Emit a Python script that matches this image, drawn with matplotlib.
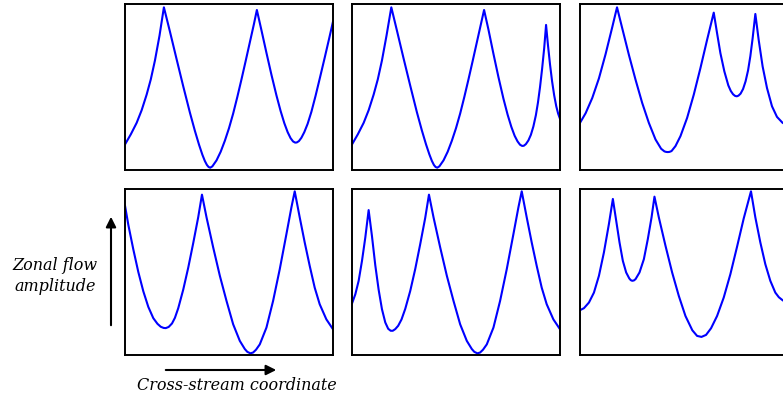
import matplotlib
matplotlib.use("Agg")
import matplotlib.pyplot as plt
from matplotlib.patches import FancyArrowPatch

# Zonal flow profiles (cross-stream position 0-100, amplitude 0-100)
p1_x = [0, 2.8, 5.6, 8, 10.4, 12.4, 14.4, 16.6, 18.7, 21.6, 24.8, 28, 31.2, 33.6, 35.6, 37.2,
        38.4, 39.4, 40.2, 41, 42, 44, 46, 48, 50, 52, 54, 56, 58, 60, 62, 63.4, 65.6, 68,
        70.4, 72.8, 74.8, 76.6, 78.2, 79.6, 80.8, 81.8, 82.6, 83.6, 84.8, 86.2, 87.8, 89.6,
        91.6, 93.8, 96, 98, 100]
p1_y = [15.4, 21.5, 28.4, 36, 45.4, 54.6, 66, 81, 98, 83.4, 66.8, 50.4, 34.6, 23.6, 15.2, 9.2,
        5.4, 3, 1.8, 1.4, 2.2, 5.8, 11, 17.6, 25.2, 34, 44, 54.6, 65.6, 76.8, 88, 96.4, 84.2, 70.6,
        57.4, 45, 35.6, 28.2, 22.8, 19.2, 17.2, 16.5, 16.6, 17.4, 19.4, 22.8, 27.8, 35,
        44.6, 56, 67.6, 78.4, 89.4]

p2_x = [0, 2.8, 5.6, 8, 10.4, 12.4, 14.4, 16.6, 18.9, 21.6, 24.8, 28, 31.2, 33.6, 35.6, 37.2,
        38.4, 39.4, 40.2, 41, 42, 44, 46, 48, 50, 52, 54, 56, 58, 60, 62, 63.5, 65.6, 68,
        70.4, 72.8, 74.8, 76.6, 78.2, 79.6, 80.8, 81.8, 82.6, 83.6, 84.8, 86, 87.2, 88.4,
        89.4, 90.4, 91.4, 92.4, 93.3, 94.2, 95.2, 96.2, 97.2, 98.2, 99.1, 100]
p2_y = [15.4, 21.5, 28.4, 36, 45.4, 54.6, 66, 81, 98, 84, 67.2, 50.8, 34.8, 23.8, 15.4, 9.4,
        5.5, 3, 1.8, 1.4, 2.2, 5.8, 11, 17.6, 25.2, 34, 44, 54.6, 65.6, 76.8, 88, 96.4, 84.6, 70,
        56, 43, 33.4, 26, 20.6, 17.2, 15.2, 14.5, 14.6, 15.6, 17.8, 21.2, 26.2, 33,
        40.6, 50, 61, 73.4, 87.4, 75.4, 63.6, 53.4, 45, 38.4, 34, 30.8]

p3_x = [0, 2.7, 5.9, 9.1, 12.3, 15.5, 17.8, 20.3, 23.5, 26.7, 29.9, 33.1, 36.3, 39, 40.6,
        41.4, 42.2, 43, 44, 45.9, 48.3, 51.5, 54.7, 57.9, 61.1, 64.3, 65.9, 67.5, 69.4, 71.3,
        72.5, 73.6, 74.6, 75.4, 76.2, 77.2, 78.4, 79.6, 80.8, 81.9, 83, 84.3, 85.9, 87.8,
        89.9, 92.3, 94.7, 97.4, 100]
p3_y = [28.4, 34.2, 43.4, 55.2, 69.8, 86, 98, 85.4, 69.4, 54.4, 40.4, 28.4, 18.4, 12.8, 11.2,
        10.9, 10.8, 10.9, 11.4, 14.4, 20.4, 31.4, 45.4, 61.4, 78.4, 94.8, 82.4, 70.4, 59.4, 51,
        47.6, 45.6, 44.6, 44.4, 44.8, 46, 48.8, 53.4, 60, 68.6, 79.4, 94, 78.4, 62.4,
        49.4, 38.4, 32, 28.4, 26.8]

p4_x = [0, 1.6, 4, 6.4, 8.8, 11.2, 13.6, 15.6, 17.2, 18.6, 19.6, 21, 22.6, 24, 25.6, 28, 30.4,
        32.8, 35.2, 37, 39.2, 42.4, 45.6, 48.8, 52, 55.2, 57.6, 58.8, 60.3, 61.6, 63, 64.8,
        68, 71.2, 74.4, 77.6, 80, 81.6, 84, 86.4, 88.8, 91.2, 93.6, 96.8, 100]
p4_y = [90, 78.4, 63.6, 50, 38.4, 29, 22.2, 18.8, 17, 16.3, 16.2, 16.9, 19, 22.4, 28.2, 39.4, 52.6,
        67.4, 83, 96.6, 82.9, 64.8, 47.7, 32.6, 18.5, 8.5, 3.6, 1.9, 1, 1.5, 3.2, 6.4,
        16.5, 32.6, 51.7, 72.8, 88.9, 98.6, 82.9, 67.8, 53.7, 40.6, 30.6, 21.5, 15.5]

p5_x = [0, 1.6, 3.2, 4.8, 6.4, 8, 9.6, 11.2, 12.8, 14.4, 16, 17.4, 18.6, 19.6, 20.8, 22.2,
        23.8, 25.6, 28, 30.4, 32.8, 35.2, 37, 39.2, 42.4, 45.6, 48.8, 52, 55.2, 57.6, 58.8,
        60.3, 61.6, 63, 64.8, 68, 71.2, 74.4, 77.6, 80, 81.6, 84, 86.4, 88.8, 91.2, 93.6,
        96.8, 100]
p5_y = [31, 36.6, 44.7, 56.7, 70.8, 87.3, 71.6, 54, 39.4, 27.6, 19.6, 15.8, 14.6, 14.6, 15.6, 17.6,
        21.4, 27.8, 38.6, 51.8, 66.8, 82.6, 96.6, 82.9, 64.8, 47.7, 32.6, 18.5, 8.5, 3.6, 1.9,
        1, 1.5, 3.2, 6.4, 16.5, 32.6, 51.7, 72.8, 88.9, 98.6, 82.9, 67.8, 53.7, 40.6, 30.6,
        21.5, 15.5]

p6_x = [0, 1.9, 4.3, 6.7, 9.1, 11.5, 13.9, 15.8, 17.4, 19, 20.6, 22.2, 23.7, 24.4, 25.1, 25.9,
        26.7, 28.6, 30.7, 32.6, 34.4, 35.8, 37.9, 41.1, 44.3, 47.5, 50.7, 54, 56.3, 58.4, 60.6,
        63, 65.9, 69.1, 72.3, 75.5, 78.7, 82.2, 84.3, 86.7, 89.1, 91.5, 93.9, 95.6, 97.4, 100]
p6_y = [27, 28.2, 31.6, 37.6, 47.7, 61.8, 78.9, 94, 80.9, 67.8, 56.7, 49.7, 46.1, 45.1, 44.7, 44.9,
        45.7, 49.7, 57.7, 69.8, 82.9, 95.4, 82.9, 65.8, 49.7, 35.6, 23.5, 14.9, 11.5, 10.9, 12.1,
        16.1, 23.5, 34.6, 48.7, 65.2, 82.2, 98.6, 82.9, 67.8, 54.7, 44.7, 37.6, 34.8, 33, 31]

profiles = [(p1_x, p1_y), (p2_x, p2_y), (p3_x, p3_y),
            (p4_x, p4_y), (p5_x, p5_y), (p6_x, p6_y)]

W, H = 783, 401
fig = plt.figure(figsize=(W / 100, H / 100), dpi=100)

col_left = [125, 352, 580]
row_top = [4, 189]
panel_w, panel_h = 208, 166

for i, (xs, ys) in enumerate(profiles):
    r, c = divmod(i, 3)
    left = col_left[c] / W
    bottom = (H - row_top[r] - panel_h) / H
    ax = fig.add_axes([left, bottom, panel_w / W, panel_h / H])
    ax.plot(xs, ys, color="#0000ff", lw=1.5, solid_joinstyle="round")
    ax.set_xlim(0, 100)
    ax.set_ylim(0, 100)
    ax.set_xticks([])
    ax.set_yticks([])
    for s in ax.spines.values():
        s.set_linewidth(1.4)
        s.set_color("black")

label_font = dict(family="DejaVu Serif", style="italic", fontsize=11.5)

# Axis arrows and labels
fig.patches.append(FancyArrowPatch(
    (111 / W, (H - 328) / H), (111 / W, (H - 214) / H), transform=fig.transFigure,
    arrowstyle="-|>", mutation_scale=15, lw=1.5, color="black"))
fig.patches.append(FancyArrowPatch(
    (163 / W, (H - 370) / H), (279 / W, (H - 370) / H), transform=fig.transFigure,
    arrowstyle="-|>", mutation_scale=15, lw=1.5, color="black"))

fig.text(55 / W, (H - 276) / H, "Zonal flow\namplitude", ha="center", va="center",
         multialignment="center", linespacing=1.3, **label_font)
fig.text(237 / W, (H - 386) / H, "Cross-stream coordinate", ha="center", va="center",
         **label_font)

fig.savefig("out.png", dpi=100)
